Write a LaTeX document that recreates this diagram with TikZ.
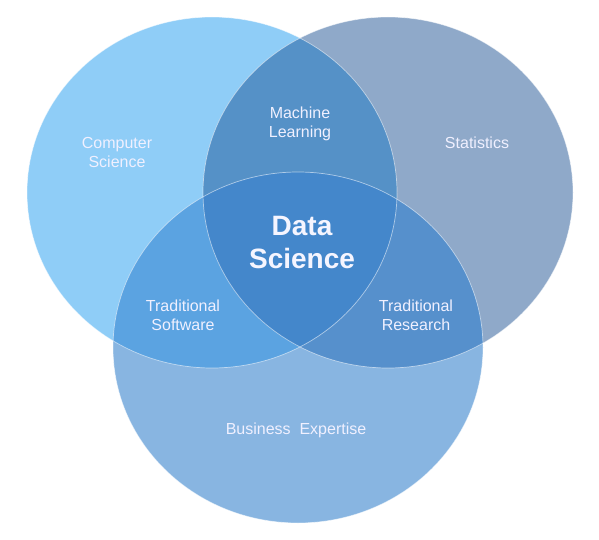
\documentclass[tikz,border=0pt]{standalone}
\usepackage{fontspec}
\setmainfont{Liberation Sans}
\usepackage{xcolor}
\definecolor{csBlue}{HTML}{8FCDF7}
\definecolor{statBlue}{HTML}{8FA9C9}
\definecolor{bizBlue}{HTML}{88B5E1}
\definecolor{mlBlue}{HTML}{5591C7}
\definecolor{dsBlue}{HTML}{4487CB}
\definecolor{tsBlue}{HTML}{5BA3E1}
\definecolor{trBlue}{HTML}{5690CC}
\newcommand{\radX}{185pt}
\newcommand{\radY}{175.5pt}
\newcommand{\csCircle}{(212,192.5) ellipse [x radius=\radX, y radius=\radY]}
\newcommand{\statCircle}{(388,192.5) ellipse [x radius=\radX, y radius=\radY]}
\newcommand{\bizCircle}{(298,347.5) ellipse [x radius=\radX, y radius=\radY]}
\tikzset{
  areaText/.style={text=white!94!blue, align=center, font=\fontsize{16}{19}\selectfont},
  coreText/.style={text=white!96!blue, align=center, font=\fontsize{28}{33}\selectfont\bfseries},
  rim/.style={draw=white, draw opacity=.55, line width=.7pt}
}
\begin{document}
\begin{tikzpicture}[x=1pt, y=-1pt]
\useasboundingbox (0,0) rectangle (599,540);

      \fill[csBlue] \csCircle;
      \fill[statBlue] \statCircle;
      \fill[bizBlue] \bizCircle;

% pairwise overlaps
\begin{scope}
  \clip \csCircle;
  \fill[mlBlue] \statCircle;
  \fill[tsBlue] \bizCircle;
\end{scope}
\begin{scope}
  \clip \statCircle;
  \fill[trBlue] \bizCircle;
\end{scope}
% centre overlap
\begin{scope}
  \clip \csCircle;
  \clip \statCircle;
  \fill[dsBlue] \bizCircle;
\end{scope}

      \path[rim] \csCircle;
      \path[rim] \statCircle;
      \path[rim] \bizCircle;

\node[areaText] (cs) at (117,152) {Computer\\Science};
\node[areaText] (stat) at (477,143) {Statistics};
\node[areaText] (ml) at (300,124) {Machine\\Learning};
\node[coreText] (ds) at (302,243) {Data\\Science};
\node[areaText] (ts) at (183,315) {Traditional\\Software};
\node[areaText] (tr) at (416,315) {Traditional\\Research};
\node[areaText] (biz) at (296,430) {Business\ \ Expertise};
   \end{tikzpicture}
\end{document}
